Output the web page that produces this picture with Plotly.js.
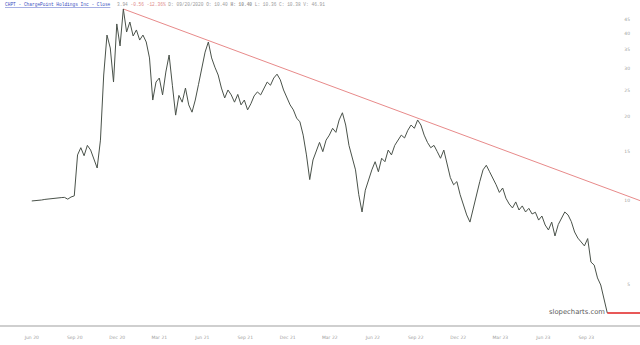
<!DOCTYPE html>
<html>
<head>
<meta charset="utf-8">
<script src="https://cdn.plot.ly/plotly-3.0.1.min.js"></script>
<style>
html,body{margin:0;padding:0;background:#fff;}
#chart{width:640px;height:345px;}
</style>
</head>
<body>
<div id="chart"></div>
<script>
const dates = [
"2020-06-01","2020-06-08","2020-06-15","2020-06-22","2020-06-29","2020-07-06","2020-07-13","2020-07-20","2020-07-27","2020-08-03",
"2020-08-10","2020-08-17","2020-08-24","2020-08-31","2020-09-07","2020-09-14","2020-09-21","2020-09-28","2020-10-05","2020-10-12",
"2020-10-19","2020-10-26","2020-11-02","2020-11-09","2020-11-16","2020-11-23","2020-11-30","2020-12-07","2020-12-14","2020-12-21",
"2020-12-28","2021-01-04","2021-01-11","2021-01-18","2021-01-25","2021-02-01","2021-02-08","2021-02-15","2021-02-22","2021-03-01",
"2021-03-08","2021-03-15","2021-03-22","2021-03-29","2021-04-05","2021-04-12","2021-04-19","2021-04-26","2021-05-03","2021-05-10",
"2021-05-17","2021-05-24","2021-05-31","2021-06-07","2021-06-14","2021-06-21","2021-06-28","2021-07-05","2021-07-12","2021-07-19",
"2021-07-26","2021-08-02","2021-08-09","2021-08-16","2021-08-23","2021-08-30","2021-09-06","2021-09-13","2021-09-20","2021-09-27",
"2021-10-04","2021-10-11","2021-10-18","2021-10-25","2021-11-01","2021-11-08","2021-11-15","2021-11-22","2021-11-29","2021-12-06",
"2021-12-13","2021-12-20","2021-12-27","2022-01-03","2022-01-10","2022-01-17","2022-01-24","2022-01-31","2022-02-07","2022-02-14",
"2022-02-21","2022-02-28","2022-03-07","2022-03-14","2022-03-21","2022-03-28","2022-04-04","2022-04-11","2022-04-18","2022-04-25",
"2022-05-02","2022-05-09","2022-05-16","2022-05-23","2022-05-30","2022-06-06","2022-06-13","2022-06-20","2022-06-27","2022-07-04",
"2022-07-11","2022-07-18","2022-07-25","2022-08-01","2022-08-08","2022-08-15","2022-08-22","2022-08-29","2022-09-05","2022-09-12",
"2022-09-19","2022-09-26","2022-10-03","2022-10-10","2022-10-17","2022-10-24","2022-10-31","2022-11-07","2022-11-14","2022-11-21",
"2022-11-28","2022-12-05","2022-12-12","2022-12-19","2022-12-26","2023-01-02","2023-01-09","2023-01-16","2023-01-23","2023-01-30",
"2023-02-06","2023-02-13","2023-02-20","2023-02-27","2023-03-06","2023-03-13","2023-03-20","2023-03-27","2023-04-03","2023-04-10",
"2023-04-17","2023-04-24","2023-05-01","2023-05-08","2023-05-15","2023-05-22","2023-05-29","2023-06-05","2023-06-12","2023-06-19",
"2023-06-26","2023-07-03","2023-07-10","2023-07-17","2023-07-24","2023-07-31","2023-08-07","2023-08-14","2023-08-21","2023-08-28",
"2023-09-04","2023-09-11","2023-09-18","2023-09-25","2023-10-02","2023-10-09","2023-10-16"
];
const closes = [
9.97,9.98,10.01,10.05,10.10,10.14,10.13,10.19,10.23,10.25,
10.27,10.12,10.30,10.40,14.6,15.5,14.5,15.8,15.2,14.2,
13.1,16.5,28.3,39.4,35.4,26.7,43.2,36.0,48.9,40.4,
43.9,39.1,41.1,37.8,39.4,37.2,32.6,23.0,26.7,27.6,
24.0,29.0,33.4,26.0,20.3,23.9,22.6,25.4,22.1,20.8,
23.0,26.2,30.0,34.2,37.2,32.6,30.2,28.3,25.4,23.4,
25.0,24.0,22.6,24.1,22.1,23.0,21.2,22.3,23.8,24.6,
24.0,25.4,26.7,26.0,27.6,28.5,27.2,25.0,23.4,22.1,
21.2,19.8,19.2,17.2,14.6,11.9,14.0,15.2,16.2,15.0,
16.5,17.2,18.2,17.6,19.5,20.7,18.7,15.8,14.2,12.9,
10.5,9.10,10.9,11.9,12.9,13.8,12.7,14.2,13.8,15.2,
14.6,15.8,16.5,17.2,16.8,17.9,18.7,18.2,19.5,18.7,
17.2,16.2,15.5,15.8,15.0,14.2,15.2,13.4,12.1,11.4,
11.7,10.5,9.65,8.88,8.37,9.41,10.5,11.7,12.9,13.4,
12.7,12.1,11.4,10.7,11.1,10.2,9.72,9.41,9.89,9.25,
9.57,9.10,9.38,8.95,9.08,8.51,8.80,8.17,7.84,8.37,
7.46,8.20,8.66,9.10,8.88,8.40,7.71,7.33,7.10,6.87,
7.30,6.01,5.86,5.27,4.97,4.46,3.94
];
const trendDates = ["2020-12-14","2023-12-25"];
const trendValues = [48.9, 10.0];
const lastDates = ["2023-10-16","2023-12-25"];
const lastValues = [3.94, 3.94];
const yTicks = [5,10,15,20,25,30,35,40,45];
const yTickText = ["5","10","15","20","25","30","35","40","45"];
const xTicks = ["2020-06-01","2020-09-01","2020-12-01","2021-03-01","2021-06-01","2021-09-01","2021-12-01","2022-03-01","2022-06-01","2022-09-01","2022-12-01","2023-03-01","2023-06-01","2023-09-01"];
const xTickText = ["Jun 20","Sep 20","Dec 20","Mar 21","Jun 21","Sep 21","Dec 21","Mar 22","Jun 22","Sep 22","Dec 22","Mar 23","Jun 23","Sep 23"];

const traces = [
  {x: trendDates, y: trendValues, type:'scatter', mode:'lines', line:{color:'#e88a8a', width:1}, hoverinfo:'skip'},
  {x: dates, y: closes, type:'scatter', mode:'lines', line:{color:'#4a524a', width:1}, hoverinfo:'skip'},
  {x: lastDates, y: lastValues, type:'scatter', mode:'lines', line:{color:'#e02020', width:1.5}, hoverinfo:'skip'}
];

const layout = {
  width:640, height:345,
  margin:{l:0, r:0, t:0, b:20},
  paper_bgcolor:'#ffffff', plot_bgcolor:'#ffffff',
  showlegend:false,
  xaxis:{
    type:'date', range:['2020-03-25','2023-12-25'],
    tickvals:xTicks, ticktext:xTickText,
    showgrid:false, zeroline:false,
    showline:true, linecolor:'#cfcfcf', linewidth:2,
    ticks:'', tickfont:{family:'DejaVu Sans', size:4.5, color:'#a0a0a0'},
    ticklabelstandoff:7
  },
  yaxis:{
    type:'log', range:[0.5525, 1.7216], side:'right',
    ticklabelposition:'inside',
    tickvals:yTicks, ticktext:yTickText,
    showgrid:false, zeroline:false, showline:false,
    ticks:'', tickfont:{family:'DejaVu Sans', size:4.5, color:'#a0a0a0'},
    ticklabelstandoff:7
  },
  annotations:[
    {xref:'paper', yref:'paper', x:0.004, y:1, xanchor:'left', yanchor:'top', showarrow:false,
     text:'<span style="text-decoration:underline">CHPT - ChargePoint Holdings Inc - Close</span>',
     font:{family:'Liberation Mono', size:4.5, color:'#3b4fc0'}},
    {xref:'paper', yref:'paper', x:0.18, y:1, xanchor:'left', yanchor:'top', showarrow:false,
     text:'3.94 <span style="fill:#e08a8a">-0.56 -12.36%</span> D: 09/20/2020 O: 10.40 <b>H: 10.40</b> L: 10.36 C: 10.38 V: 46.91',
     font:{family:'Liberation Mono', size:4.5, color:'#9a9a9a'}},
    {xref:'paper', yref:'paper', x:0.948, y:0.04, xanchor:'right', yanchor:'middle', showarrow:false,
     text:'slopecharts.com', font:{family:'DejaVu Sans', size:6.8, color:'#5a5a5a'}}
  ]
};

Plotly.newPlot('chart', traces, layout, {staticPlot:true, displayModeBar:false});
</script>
</body>
</html>
